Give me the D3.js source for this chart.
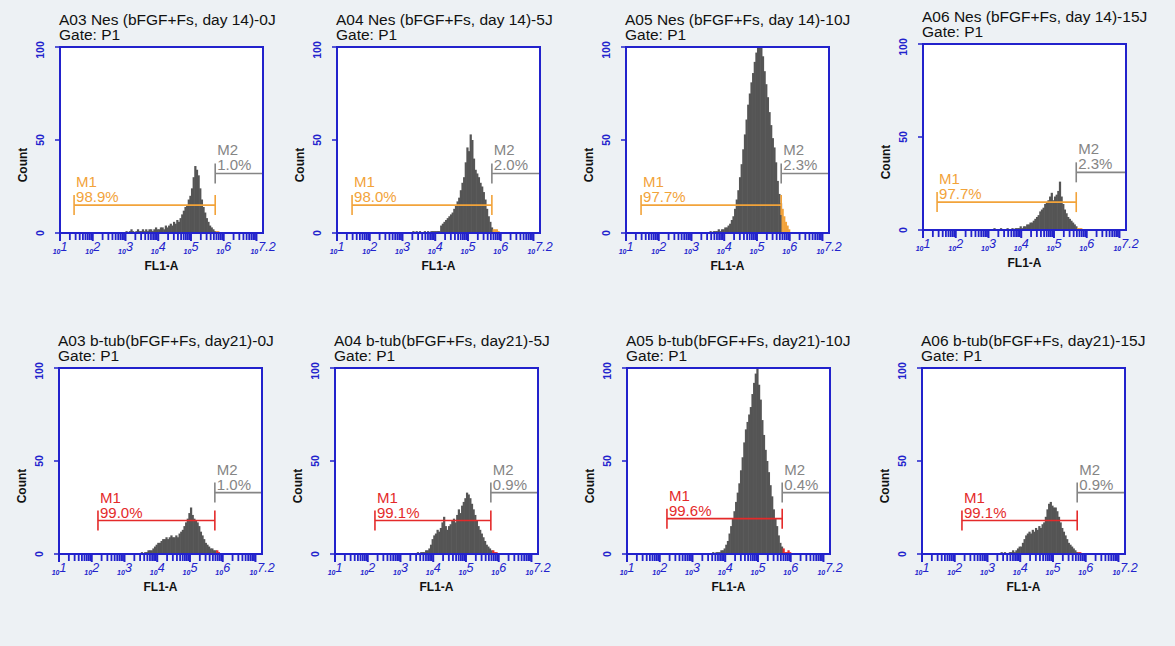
<!DOCTYPE html>
<html><head><meta charset="utf-8"/>
<title>FL1-A histograms</title>
<script src="https://cdn.jsdelivr.net/npm/d3@7/dist/d3.min.js"></script>
<style>
  body { margin: 0; padding: 0; background: #edf1f4; }
  svg { display: block; font-family: "Liberation Sans", Arial, sans-serif; }
</style>
</head>
<body>
<svg id="chart" width="1175" height="646"></svg>
<script>
// ---- data ----
const titles = [
  "A03 Nes (bFGF+Fs, day 14)-0J", "A04 Nes (bFGF+Fs, day 14)-5J",
  "A05 Nes (bFGF+Fs, day 14)-10J", "A06 Nes (bFGF+Fs, day 14)-15J",
  "A03 b-tub(bFGF+Fs, day21)-0J", "A04 b-tub(bFGF+Fs, day21)-5J",
  "A05 b-tub(bFGF+Fs, day21)-10J", "A06 b-tub(bFGF+Fs, day21)-15J"
];
const m1Pct = ["98.9%", "98.0%", "97.7%", "97.7%", "99.0%", "99.1%", "99.6%", "99.1%"];
const m2Pct = ["1.0%", "2.0%", "2.3%", "2.3%", "1.0%", "0.9%", "0.4%", "0.9%"];
// marker gates, log10 of FL1-A
const m1Start = [1.43, 1.46, 1.46, 1.43, 2.19, 2.22, 2.22, 2.22];
const m1End   = [5.74, 5.73, 5.74, 5.68, 5.76, 5.76, 5.74, 5.74];
const m2End   = 7.2;
const m1Level = [15, 15, 15, 15, 18, 18, 19, 18];
const m2Level = [32, 32, 32, 31, 33, 33, 33, 33];

// histogram counts, bins of 0.05 decade starting at 10^3
const binStart = 3.0, binWidth = 0.05;
const counts = [
  [1,0,1,2,1,0,1,2,1,1, 2,1,2,1,2,2,1,2,3,2, 2,3,3,2,4,3,4,5,4,6,
   5,7,6,8,10,12,14,15,18,20, 24,30,36,34,31,24,18,14,11,8, 6,4,3,2,1,1,1,0,0,0],
  [0,0,0,0,0,0,1,0,1,0, 1,0,0,1,0,1,0,1,1,1, 1,1,1,4,5,6,7,8,9,10,
   11,13,15,17,19,23,27,30,38,46, 44,53,50,40,34,32,30,27,25,22, 18,13,9,6,3,2,2,2,1,0],
  [0,0,0,0,0,0,0,0,0,0, 0,1,0,1,1,1,2,1,2,2, 3,3,4,5,7,9,13,18,23,30,
   37,45,53,61,69,75,81,86,92,97, 100,100,100,95,87,80,73,65,58,51, 46,38,28,21,16,13,9,6,4,2],
  [0,0,0,1,0,0,0,1,0,0, 0,1,0,0,1,0,1,1,1,2, 1,2,2,3,3,4,4,5,6,7,
   8,10,11,12,14,15,16,18,20,16, 18,19,21,26,18,14,11,9,7,6, 5,4,3,2,1,1,1,0,0,0],
  [0,0,0,0,0,0,0,0,0,0, 1,0,1,1,2,2,2,3,4,5, 6,6,7,8,8,9,8,9,10,9,
   9,10,9,11,12,13,15,17,19,22, 25,21,19,18,17,15,12,10,8,6, 5,4,3,3,2,2,2,1,0,0],
  [0,0,0,0,0,0,0,0,0,0, 1,0,1,1,1,2,2,3,5,8, 10,11,13,12,14,17,20,15,13,15,
   16,18,19,17,21,24,22,26,28,30, 33,32,30,27,24,21,18,15,13,11, 9,7,5,4,3,2,2,1,1,0],
  [0,0,0,0,0,0,0,0,0,0, 0,0,1,0,1,1,1,2,2,3, 5,7,11,15,19,23,28,33,38,45,
   52,60,67,71,75,79,86,92,97,100, 91,83,72,64,56,50,44,37,31,24, 19,15,10,6,4,3,1,1,2,1],
  [0,0,0,0,0,0,0,0,1,0, 1,0,0,1,1,2,1,2,3,4, 4,6,8,10,11,12,11,13,12,14,
   13,15,14,16,17,20,24,27,28,26, 25,25,23,20,17,14,12,10,8,6, 5,4,3,2,1,1,1,0,0,0]
];
const yTicks = [0, 50, 100];
const xDecades = [1, 2, 3, 4, 5, 6];

// ---- layout ----
const panels = [
  {x: 60, y: 47}, {x: 337, y: 47}, {x: 626, y: 47}, {x: 923, y: 44},
  {x: 59, y: 368}, {x: 335, y: 368}, {x: 627, y: 368}, {x: 922, y: 368}
];
const W = 203, H = 186;
const blue = "#2222cc";
const rowColor = ["#f2a33a", "#e42a2a"];

const svg = d3.select("#chart");
svg.append("rect").attr("width", 1175).attr("height", 646).attr("fill", "#edf1f4");

panels.forEach((p, i) => {
  const mColor = rowColor[i < 4 ? 0 : 1];
  const g = svg.append("g").attr("transform", `translate(${p.x},${p.y})`);
  const x = d3.scaleLog().domain([10, Math.pow(10, 7.2)]).range([0, W]);
  const y = d3.scaleLinear().domain([0, 100]).range([H, 0]).clamp(true);

  // titles
  g.append("text").attr("x", -1).attr("y", -22).attr("font-size", 15.5).attr("fill", "#111")
    .text(titles[i]);
  g.append("text").attr("x", -1).attr("y", -7).attr("font-size", 15.5).attr("fill", "#111")
    .text("Gate: P1");

  g.append("rect").attr("width", W).attr("height", H).attr("fill", "#fff");

  // histogram
  const bins = counts[i].map((c, k) => ({lo: binStart + k * binWidth, c}));
  g.append("g").selectAll("rect").data(bins.filter(b => b.c > 0)).join("rect")
    .attr("x", b => x(Math.pow(10, b.lo)))
    .attr("width", b => x(Math.pow(10, b.lo + binWidth)) - x(Math.pow(10, b.lo)) + 0.6)
    .attr("y", b => y(b.c))
    .attr("height", b => H - y(b.c))
    .attr("fill", b => b.lo >= m1End[i] - 0.005 ? mColor : "#555");

  // markers
  const drawMarker = (a, b, lvl, color, name, pct, endColor) => {
    const x0 = x(Math.pow(10, a)), x1 = x(Math.pow(10, b)), yy = y(lvl);
    const mg = g.append("g").attr("stroke", color).attr("stroke-width", 1.6);
    mg.append("line").attr("x1", x0).attr("x2", x1).attr("y1", yy).attr("y2", yy);
    mg.append("line").attr("x1", x0).attr("x2", x0).attr("y1", yy - 10).attr("y2", yy + 10);
    mg.append("line").attr("x1", x1).attr("x2", x1).attr("y1", yy - 10).attr("y2", yy + 10)
      .attr("stroke", endColor || color);
    g.append("text").attr("x", x0 + 2).attr("y", yy - 18).attr("font-size", 15).attr("fill", color).text(name);
    g.append("text").attr("x", x0 + 2).attr("y", yy - 3).attr("font-size", 15).attr("fill", color).text(pct);
  };
  drawMarker(m1Start[i], m1End[i], m1Level[i], mColor, "M1", m1Pct[i]);
  drawMarker(m1End[i], m2End, m2Level[i], "#858585", "M2", m2Pct[i], "#2a2a60");

  // frame
  g.append("rect").attr("width", W).attr("height", H).attr("fill", "none")
    .attr("stroke", blue).attr("stroke-width", 2);

  // y axis
  yTicks.forEach(t => {
    g.append("line").attr("x1", -5).attr("x2", 0).attr("y1", y(t)).attr("y2", y(t))
      .attr("stroke", blue).attr("stroke-width", 1.5);
    g.append("text").attr("transform", `translate(-20,${y(t) + (t === 100 ? 3 : 0)}) rotate(-90)`)
      .attr("text-anchor", "middle").attr("dy", "0.35em")
      .attr("font-size", 10.5).attr("font-weight", "bold").attr("fill", blue).text(t);
  });
  g.append("text").attr("transform", `translate(-33,118) rotate(-90)`)
    .attr("text-anchor", "middle").attr("font-size", 12).attr("font-weight", "bold")
    .attr("fill", "#111").text("Count");

  // x axis ticks: decades and 2..9 minors
  const tickVals = [];
  xDecades.forEach(d => {
    for (let k = 1; k <= 9; k++) tickVals.push({v: k * Math.pow(10, d), major: k === 1});
  });
  tickVals.push({v: 1e7, major: true});
  g.append("g").selectAll("line").data(tickVals).join("line")
    .attr("x1", t => x(t.v)).attr("x2", t => x(t.v))
    .attr("y1", H).attr("y2", t => H + (t.major ? 8 : 7))
    .attr("stroke", blue).attr("stroke-width", t => t.major ? 2 : 1.8);

  const labels = xDecades.map(d => ({pos: d, exp: String(d)})).concat([{pos: 7.2, exp: "7.2"}]);
  labels.forEach(l => {
    const t = g.append("text").attr("x", x(Math.pow(10, l.pos))).attr("y", H + 21)
      .attr("text-anchor", "middle").attr("fill", blue).attr("font-style", "italic");
    t.append("tspan").attr("font-size", 7).attr("font-weight", "bold").text("10");
    t.append("tspan").attr("font-size", 12.5).attr("dy", -3).text(l.exp);
  });
  g.append("text").attr("x", W / 2).attr("y", H + 37).attr("text-anchor", "middle")
    .attr("font-size", 12).attr("font-weight", "bold").attr("fill", "#111").text("FL1-A");
});
</script>
</body></html>
